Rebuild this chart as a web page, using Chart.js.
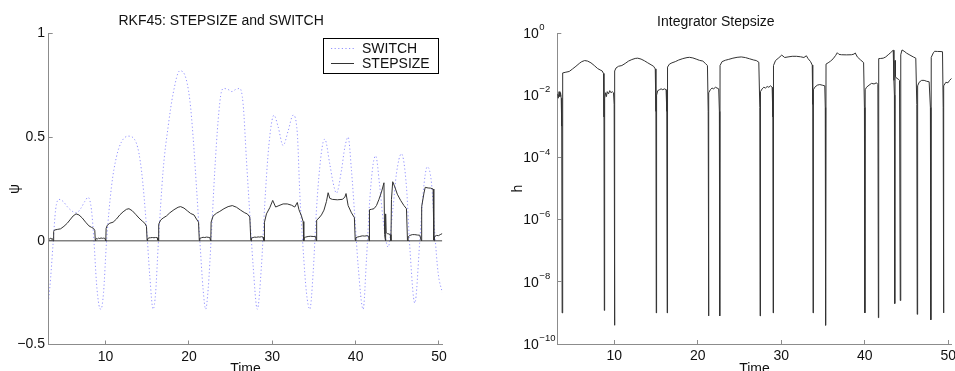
<!DOCTYPE html>
<html>
<head>
<meta charset="utf-8">
<title>RKF45 stepsize</title>
<script src="https://cdn.jsdelivr.net/npm/chart.js@4/dist/chart.umd.min.js"></script>
<style>
  body { margin: 0; background: #fff; }
  .panel { position: absolute; top: 0; }
</style>
</head>
<body>
<div class="panel" style="left:0"><canvas id="switchChart" width="460" height="371"></canvas></div>
<div class="panel" style="left:480px"><canvas id="stepChart" width="475" height="371"></canvas></div>
<script>
// time axis
const timeRange = [3.17, 50.4];
const timeTicks = [10, 20, 30, 40, 50];
const psiTicks = [-0.5, 0, 0.5, 1];
const hExponents = [0, -2, -4, -6, -8, -10];

// switching function
const switchTime = [
  3.17, 3.4, 3.7, 4.0, 4.4, 4.9, 5.5, 6.1, 6.5, 7.0, 7.5, 7.9, 8.3, 8.6, 8.9, 9.2, 9.44, 9.75,
  10.1, 10.7, 11.3, 11.9, 12.7, 13.7, 14.3, 14.9, 15.3, 15.7, 16.0, 16.3, 16.9, 17.5, 18.1, 18.9,
  19.5, 20.1, 20.5, 20.9, 21.3, 21.7, 22.0, 22.3, 22.7, 23.1, 23.5, 23.9, 24.2, 24.7, 25.15, 25.6,
  26.1, 26.5, 26.9, 27.3, 27.7, 28.2, 28.7, 29.1, 29.5, 29.9, 30.2, 30.7, 31.3, 31.9, 32.5, 33.0,
  33.3, 33.7, 34.1, 34.5, 34.9, 35.3, 35.7, 36.1, 36.3, 36.9, 37.3, 37.7, 38.3, 38.7, 39.1, 39.5,
  39.9, 40.3, 40.9, 41.3, 41.7, 42.1, 42.4, 42.9, 43.3, 43.9, 44.5, 44.9, 45.5, 46.1, 46.5, 47.1,
  47.7, 48.1, 48.6, 49.1, 49.5, 49.9, 50.4
];
const switchValue = [
  -0.28, -0.18, -0.01, 0.15, 0.2, 0.19, 0.16, 0.14, 0.135, 0.155, 0.19, 0.21, 0.15, 0.0, -0.2, -0.31, -0.33, -0.25,
  -0.01, 0.26, 0.405, 0.477, 0.505, 0.47, 0.34, 0.07, -0.17, -0.33, -0.25, -0.03, 0.34, 0.55, 0.71, 0.82,
  0.8, 0.68, 0.5, 0.26, 0.005, -0.235, -0.33, -0.235, 0.037, 0.34, 0.58, 0.72, 0.735, 0.73, 0.72, 0.73,
  0.735, 0.66, 0.39, 0.13, -0.12, -0.33, -0.12, 0.18, 0.42, 0.566, 0.606, 0.55, 0.46, 0.53, 0.606, 0.52,
  0.23, -0.04, -0.25, -0.33, -0.155, 0.15, 0.357, 0.477, 0.49, 0.37, 0.28, 0.23, 0.34, 0.45, 0.5, 0.34,
  0.117, -0.12, -0.33, -0.09, 0.2, 0.37, 0.41, 0.26, 0.1, -0.03, 0.165, 0.325, 0.42, 0.26, -0.03, -0.30,
  0.0, 0.23, 0.357, 0.28, 0.037, -0.155, -0.25
];

// integrator stepsize, one line per stretch
const stepTime = [
  3.17, 3.28, 3.38, 3.48, 3.56, 3.64, 3.70, 3.75, 3.78, 3.85,
  4.2, 4.6, 5.0, 5.4, 5.8, 6.1, 6.45, 6.8, 7.2, 7.6, 8.0, 8.3, 8.55, 8.7, 8.76, 8.8, 8.84,
  8.95, 9.05, 9.15, 9.3, 9.45, 9.6, 9.75, 9.9, 9.98, 10.02, 10.06, 10.2,
  10.5, 10.9, 11.3, 11.7, 12.1, 12.5, 12.8, 13.2, 13.6, 14.0, 14.4, 14.7, 14.9, 14.98, 15.02, 15.06,
  15.2, 15.4, 15.6, 15.8, 16.0, 16.2, 16.28, 16.33, 16.37,
  16.6, 16.9, 17.3, 17.7, 18.2, 18.7, 19.0, 19.4, 19.8, 20.2, 20.6, 20.9, 21.15, 21.24, 21.28, 21.32,
  21.5, 21.7, 21.9, 22.1, 22.3, 22.5, 22.58, 22.62, 22.66,
  22.9, 23.3, 23.7, 24.2, 24.7, 25.2, 25.7, 26.2, 26.7, 27.0, 27.3, 27.42, 27.46, 27.5,
  27.7, 27.9, 28.1, 28.3, 28.5, 28.7, 28.9, 28.98, 29.02, 29.06,
  29.3, 29.7, 30.05, 30.4, 30.8, 31.3, 31.8, 32.3, 32.7, 33.0, 33.2, 33.5, 33.7, 33.76, 33.8, 33.84,
  34.0, 34.3, 34.6, 34.9, 35.2, 35.26, 35.3, 35.35,
  35.6, 35.9, 36.2, 36.5, 36.7, 36.9, 37.2, 37.8, 38.4, 38.7, 38.85, 39.1, 39.5, 39.85, 39.95, 40.0, 40.04,
  40.2, 40.5, 40.8, 41.1, 41.4, 41.56, 41.62, 41.66,
  41.9, 42.2, 42.5, 42.8, 43.1, 43.4, 43.48, 43.54, 43.58, 43.62, 43.66, 43.8, 44.0, 44.15, 44.24, 44.3, 44.45,
  44.7, 45.0, 45.4, 45.8, 46.1, 46.22, 46.27, 46.32,
  46.5, 46.8, 47.1, 47.4, 47.7, 47.85, 47.9, 47.95,
  48.2, 48.35, 48.7, 49.0, 49.3, 49.38, 49.42, 49.46,
  49.7, 49.95, 50.15, 50.4
];
const stepSize = [
  0.011, 0.008, 0.013, 0.009, 0.012, 0.008, 0.001, 1e-9, 0.045, 0.052,
  0.055, 0.058, 0.07, 0.085, 0.105, 0.12, 0.13, 0.125, 0.11, 0.09, 0.072, 0.065, 0.06, 0.05, 0.002, 1.2e-9, 0.008,
  0.012, 0.009, 0.013, 0.011, 0.014, 0.012, 0.013, 0.012, 0.005, 4e-10, 0.06, 0.075,
  0.085, 0.09, 0.105, 0.125, 0.14, 0.152, 0.155, 0.145, 0.128, 0.11, 0.095, 0.085, 0.07, 0.003, 1e-9, 0.01,
  0.014, 0.015, 0.016, 0.015, 0.016, 0.015, 0.003, 1e-9, 0.08,
  0.1, 0.11, 0.12, 0.135, 0.15, 0.162, 0.165, 0.158, 0.145, 0.132, 0.125, 0.105, 0.09, 0.003, 8e-10, 0.012,
  0.015, 0.017, 0.016, 0.018, 0.017, 0.016, 0.003, 8e-10, 0.09,
  0.12, 0.133, 0.142, 0.155, 0.165, 0.17, 0.162, 0.148, 0.135, 0.13, 0.115, 0.004, 8e-10, 0.013,
  0.016, 0.018, 0.017, 0.019, 0.018, 0.02, 0.018, 0.002, 1e-9, 0.09,
  0.13, 0.16, 0.195, 0.163, 0.17, 0.178, 0.178, 0.172, 0.163, 0.185, 0.15, 0.12, 0.093, 0.005, 1e-9, 0.015,
  0.018, 0.021, 0.022, 0.021, 0.02, 0.004, 4e-10, 0.1,
  0.11, 0.125, 0.148, 0.19, 0.232, 0.205, 0.2, 0.198, 0.2, 0.21, 0.228, 0.17, 0.135, 0.112, 0.004, 1e-9, 0.015,
  0.018, 0.021, 0.024, 0.023, 0.025, 0.022, 7e-10, 0.15,
  0.152, 0.155, 0.17, 0.2, 0.235, 0.28, 0.03, 0.01, 2e-9, 0.13, 0.04, 0.035, 0.033, 0.03, 2.5e-9, 0.2, 0.285,
  0.26, 0.225, 0.195, 0.17, 0.155, 0.005, 9e-10, 0.02,
  0.026, 0.03, 0.03, 0.028, 0.027, 0.004, 6e-10, 0.165,
  0.23, 0.258, 0.255, 0.254, 0.25, 0.004, 1e-9, 0.02,
  0.026, 0.025, 0.03, 0.035
];

const fontFamily = '"Liberation Sans", Arial, Helvetica, sans-serif';
const axisGray = '#8c8c8c';
const textColor = '#111';

const switchPoints = switchTime.map((t, i) => ({ x: t, y: switchValue[i] }));
const stepPoints = stepTime.map((t, i) => ({ x: t, y: stepSize[i] }));

function timeAxis(height) {
  return {
    type: 'linear',
    min: timeRange[0],
    max: timeRange[1],
    afterBuildTicks: s => { s.ticks = timeTicks.map(v => ({ value: v })); },
    afterFit: s => { s.height = height; s.paddingLeft = 0; s.paddingRight = 0; },
    grid: { drawOnChartArea: false, drawTicks: true, tickLength: -4, tickColor: axisGray },
    border: { display: true, color: axisGray },
    ticks: { padding: 8, color: textColor, font: { family: fontFamily, size: 14 }, maxRotation: 0, autoSkip: false },
    // sits low enough that the bottom edge trims it
    title: { display: true, text: 'Time', color: textColor, font: { family: fontFamily, size: 14 }, padding: { top: 0, bottom: -6.5 } }
  };
}

// MATLAB-style boxed legend
const boxLegend = {
  id: 'boxLegend',
  afterDraw(chart) {
    const ctx = chart.ctx;
    const box = { x: 323.5, y: 38.5, w: 115, h: 35 };
    ctx.save();
    ctx.fillStyle = '#fff';
    ctx.fillRect(box.x, box.y, box.w, box.h);
    ctx.strokeStyle = '#000';
    ctx.lineWidth = 1;
    ctx.strokeRect(box.x, box.y, box.w, box.h);
    chart.data.datasets.slice(0, 2).forEach((ds, i) => {
      const y = box.y + 10 + i * 15;
      ctx.strokeStyle = ds.borderColor;
      ctx.setLineDash(ds.borderDash || []);
      ctx.beginPath();
      ctx.moveTo(331, y);
      ctx.lineTo(354, y);
      ctx.stroke();
      ctx.setLineDash([]);
      ctx.fillStyle = textColor;
      ctx.font = '14px ' + fontFamily;
      ctx.textBaseline = 'middle';
      ctx.textAlign = 'left';
      ctx.fillText(ds.label, 362, y + 0.5);
    });
    ctx.restore();
  }
};

// 10^n labels with raised exponents
const powerLabels = {
  id: 'powerLabels',
  afterDraw(chart) {
    const ctx = chart.ctx;
    const scale = chart.scales.y;
    ctx.save();
    ctx.fillStyle = textColor;
    ctx.textAlign = 'left';
    ctx.textBaseline = 'middle';
    hExponents.forEach(e => {
      const y = scale.getPixelForValue(Math.pow(10, e));
      ctx.font = '14px ' + fontFamily;
      ctx.fillText('10', 43.3, y + 1);
      const w = ctx.measureText('10').width;
      ctx.font = '9.5px ' + fontFamily;
      ctx.fillText(e === 0 ? '0' : '\u2212' + (-e), 43.3 + w + 0.5, y - 5.5);
    });
    ctx.restore();
  }
};

new Chart(document.getElementById('switchChart'), {
  type: 'line',
  data: {
    datasets: [
      { label: 'SWITCH', data: switchPoints, borderColor: 'rgba(90,90,255,0.65)', borderWidth: 1,
        borderDash: [1.2, 2.4], pointRadius: 0, cubicInterpolationMode: 'monotone', order: 3 },
      { label: 'STEPSIZE', data: stepPoints, borderColor: '#333', borderWidth: 1, pointRadius: 0, tension: 0, order: 1 },
      { label: 'zero', data: [{ x: timeRange[0], y: 0 }, { x: timeRange[1], y: 0 }],
        borderColor: '#444', borderWidth: 1, pointRadius: 0, order: 2 }
    ]
  },
  options: {
    responsive: false,
    animation: false,
    layout: { padding: { left: 0, right: 17.7, top: 0, bottom: 0 } },
    plugins: {
      legend: { display: false },
      tooltip: { enabled: false },
      title: { display: true, text: 'RKF45: STEPSIZE and SWITCH', color: textColor,
        font: { family: fontFamily, size: 14, weight: 'normal' }, padding: { top: 13, bottom: 3.7 } }
    },
    scales: {
      x: timeAxis(26.5),
      y: {
        min: -0.5,
        max: 1,
        afterBuildTicks: s => { s.ticks = psiTicks.map(v => ({ value: v })); },
        afterFit: s => { s.width = 48.7; s.paddingTop = 0; s.paddingBottom = 0; },
        grid: { drawOnChartArea: false, drawTicks: true, tickLength: -4, tickColor: axisGray },
        border: { display: true, color: axisGray },
        ticks: { padding: 7.7, color: textColor, font: { family: fontFamily, size: 14 },
          callback: v => String(v).replace('-', '\u2212') },
        title: { display: true, text: 'ψ', color: textColor, font: { family: fontFamily, size: 14 }, padding: { top: 6.6, bottom: 0 } }
      }
    }
  },
  plugins: [boxLegend]
});

new Chart(document.getElementById('stepChart'), {
  type: 'line',
  data: {
    datasets: [
      { label: 'h', data: stepPoints, borderColor: '#333', borderWidth: 1, pointRadius: 0, tension: 0 }
    ]
  },
  options: {
    responsive: false,
    animation: false,
    layout: { padding: { left: 0, right: 3.3, top: 0, bottom: 0 } },
    plugins: {
      legend: { display: false },
      tooltip: { enabled: false },
      title: { display: true, text: 'Integrator Stepsize', color: textColor,
        font: { family: fontFamily, size: 14, weight: 'normal' }, padding: { top: 13.5, bottom: 2.7 } }
    },
    scales: {
      x: timeAxis(27),
      y: {
        type: 'logarithmic',
        min: 1e-10,
        max: 1,
        afterBuildTicks: s => { s.ticks = hExponents.map(e => ({ value: Math.pow(10, e) })); },
        afterFit: s => { s.width = 77.3; s.paddingTop = 0; s.paddingBottom = 0; },
        grid: { drawOnChartArea: false, drawTicks: true, tickLength: -4, tickColor: axisGray },
        border: { display: true, color: axisGray },
        ticks: { callback: () => '' },
        title: { display: true, text: 'h', color: textColor, font: { family: fontFamily, size: 14 }, padding: { top: 29.9, bottom: 0 } }
      }
    }
  },
  plugins: [powerLabels]
});
</script>
</body>
</html>
